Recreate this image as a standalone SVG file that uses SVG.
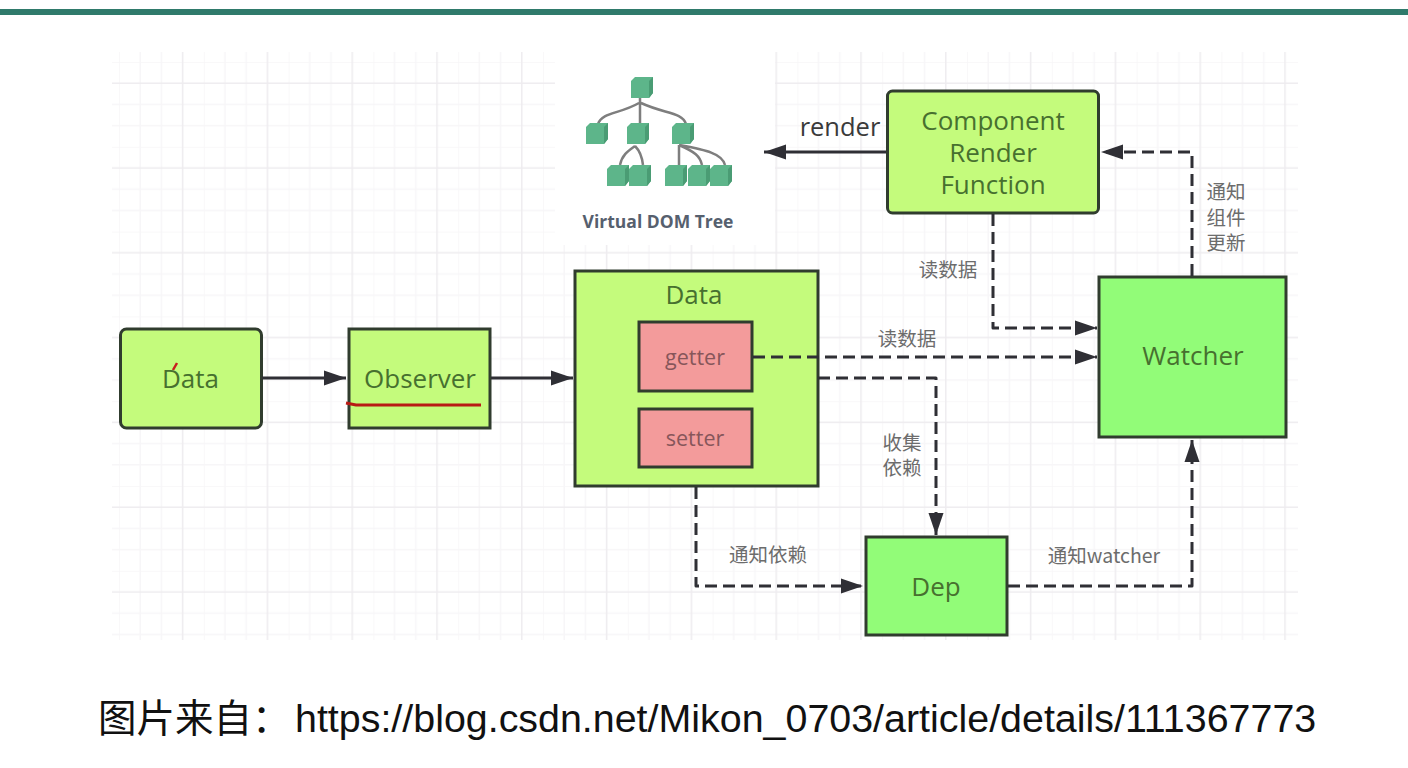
<svg xmlns="http://www.w3.org/2000/svg" width="1408" height="768" viewBox="0 0 1408 768">
<style>
.n{stroke:#303c2e;stroke-width:3}
.lime{fill:#c4fb7c}
.green{fill:#92fc78}
.pink{fill:#f39b9b}
.t{font-family:"Open Sans","Liberation Sans","Noto Sans CJK SC",sans-serif;font-size:26px;fill:#47702f;text-anchor:middle}
.s{font-size:21.5px;fill:#87565a}
.l{font-family:"Noto Sans CJK SC",sans-serif;font-size:19.5px;fill:#6c6c6c;text-anchor:middle}
.c{fill:none;stroke:#2f2f35;stroke-width:3;stroke-linejoin:round}
.d{stroke-dasharray:12 6}
.cube{fill:#5db58a;stroke:none}
.b{fill:none;stroke:#7e7e7e;stroke-width:2.5}
</style>
<defs>
<marker id="a" markerUnits="userSpaceOnUse" markerWidth="24" markerHeight="16" refX="22" refY="8" orient="auto"><path d="M0 0.500L22 8L0 15.500Z" fill="#2f2f35"/></marker>
<pattern id="g" patternUnits="userSpaceOnUse" x="119" y="62" width="84.8" height="84.8">
<path d="M0 0V84.8M21.2 0V84.8M42.4 0V84.8M0 0H84.8M0 42.4H84.8M0 63.6H84.8" fill="none" stroke="#f7f6f8" stroke-width="1.5"/>
<path d="M0 21.2H84.8M63.6 0V84.8" fill="none" stroke="#eeecef" stroke-width="1.5"/>
</pattern>
<g id="cube"><path class="cube" d="M0 4L4 0H22V16L18 21H0Z"/><path d="M18 4L22 0V16L18 21Z" fill="#4a9c74"/></g>
</defs>
<rect width="1408" height="768" fill="#fff"/>
<rect x="0" y="9" width="1408" height="6" fill="#2f7a6b"/>
<rect x="112" y="52" width="1186" height="588" fill="url(#g)"/>
<rect x="555" y="50" width="220" height="195" fill="#fff"/>
<g id="vdom">
<path class="b" d="M640 98V124M639 103C620 114 602 112 598 124M641 103C665 114 682 112 686 124M635 146C628 151 622 155 620 165M635 146C640 151 642 156 643 165M679 145V165M679 145C695 152 700 156 702 165M679 145C705 150 722 153 725 165"/>
<use href="#cube" x="631" y="77"/><use href="#cube" x="586" y="123"/><use href="#cube" x="627" y="123"/><use href="#cube" x="672" y="123"/><use href="#cube" x="607" y="165"/><use href="#cube" x="629" y="165"/><use href="#cube" x="665" y="165"/><use href="#cube" x="688" y="165"/><use href="#cube" x="710" y="165"/>
<text x="658" y="228" font-family="Open Sans,Liberation Sans,sans-serif" font-size="17.500" font-weight="700" fill="#56606e" text-anchor="middle">Virtual DOM Tree</text>
</g>
<g id="data1"><rect class="n lime" x="120.500" y="329" width="141" height="99" rx="6"/><text class="t" x="190.500" y="388">Data</text><path d="M173 370L177 363" stroke="#c81e1e" stroke-width="2.500" fill="none"/></g>
<g id="observer"><rect class="n lime" x="349" y="329" width="141" height="99"/><text class="t" x="420" y="388">Observer</text><path d="M346 403L356 405H370L481 405" stroke="#b81a14" stroke-width="3" fill="none"/></g>
<g id="data2"><rect class="n lime" x="575" y="271" width="243" height="215"/><text class="t" x="694" y="304">Data</text></g>
<g id="getter"><rect class="n pink" x="639" y="322" width="113" height="69"/><text class="t s" x="695" y="365">getter</text></g>
<g id="setter"><rect class="n pink" x="639" y="409" width="113" height="58"/><text class="t s" x="695" y="446">setter</text></g>
<g id="component"><rect class="n lime" x="887.500" y="91" width="211" height="122" rx="5"/><text class="t" x="993" y="130">Component</text><text class="t" x="993" y="162">Render</text><text class="t" x="993" y="194">Function</text></g>
<g id="watcher"><rect class="n green" x="1099" y="277" width="187" height="160"/><text class="t" x="1193" y="365">Watcher</text></g>
<g id="dep"><rect class="n green" x="866" y="537" width="141" height="98"/><text class="t" x="936" y="596">Dep</text></g>
<g id="connectors">
<path class="c" d="M262 378H346" marker-end="url(#a)"/>
<path class="c" d="M491 378H573" marker-end="url(#a)"/>
<path class="c" d="M886 152H764" marker-end="url(#a)"/>
<path class="c d" d="M1192 276V152H1101" marker-end="url(#a)"/>
<path class="c d" d="M993 214V328H1097" marker-end="url(#a)"/>
<path class="c d" d="M753 357H1097" marker-end="url(#a)"/>
<path class="c d" d="M818 378H936V535" marker-end="url(#a)"/>
<path class="c d" d="M696 487V586H863" marker-end="url(#a)"/>
<path class="c d" d="M1008 586H1192V440" marker-end="url(#a)"/>
</g>
<text x="840" y="136" font-family="Open Sans,Liberation Sans,sans-serif" font-size="25.500" fill="#3a3a3a" text-anchor="middle">render</text>
<g class="labels">
<text class="l" x="1226" y="199">通知</text><text class="l" x="1226" y="225">组件</text><text class="l" x="1226" y="250">更新</text>
<text class="l" x="948" y="277">读数据</text><text class="l" x="907" y="346">读数据</text>
<text class="l" x="902" y="450">收集</text><text class="l" x="902" y="475">依赖</text>
<text class="l" x="768" y="562">通知依赖</text><text class="l" x="1104" y="563">通知watcher</text>
</g>
<text y="732" fill="#111"><tspan x="98" font-family="Noto Sans CJK SC,sans-serif" font-size="38.500">图片来自：</tspan><tspan x="295" font-family="Liberation Sans,sans-serif" font-size="39.400">https://blog.csdn.net/Mikon_0703/article/details/111367773</tspan></text>
</svg>
